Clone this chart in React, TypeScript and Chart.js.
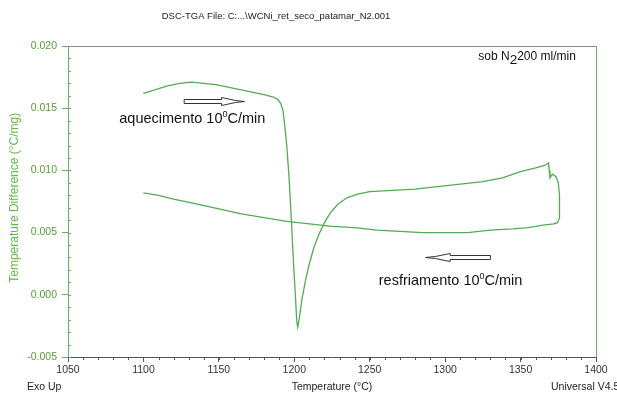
import React, { useEffect, useRef } from "react";
import { Chart, registerables } from "chart.js";

Chart.register(...registerables);

// ---- data ----
const temperature = [
  1100, 1108, 1116, 1124, 1132, 1140, 1148, 1156, 1164, 1172, 1180, 1186, 1189, 1191,
  1192.5, 1193.5, 1195, 1196.5, 1198, 1199.5, 1200.7, 1201.7, 1202.3, 1203.2, 1205,
  1207.5, 1210, 1213, 1216.5, 1220, 1224, 1229, 1235, 1242, 1250, 1265, 1280, 1295,
  1310, 1325, 1338, 1350, 1360, 1366, 1368.5, 1369, 1369.5, 1371, 1373.5, 1375,
  1375.8, 1376, 1375.6, 1374.5, 1372,
  1365, 1355, 1345, 1330, 1315, 1300, 1285, 1270, 1255, 1240, 1225, 1210, 1195,
  1180, 1165, 1150, 1135, 1120, 1110, 1100,
];
const tempDifference = [
  0.0162, 0.0165, 0.0168, 0.017, 0.0171, 0.017, 0.0169, 0.0167, 0.0165, 0.0163, 0.0161,
  0.0159, 0.0157, 0.0154, 0.0148, 0.0138, 0.012, 0.0095, 0.0062, 0.0025, 0.0, -0.0022,
  -0.0026, -0.002, -0.0004, 0.0012, 0.0025, 0.0038, 0.0049, 0.0058, 0.0066, 0.0073,
  0.0078, 0.0081, 0.0083, 0.0084, 0.0085, 0.0087, 0.0089, 0.0091, 0.0094, 0.0099,
  0.0102, 0.0104, 0.0106, 0.01, 0.0094, 0.0097, 0.0095, 0.009, 0.008, 0.007, 0.0062,
  0.0058, 0.0057,
  0.0056, 0.0054, 0.0053, 0.0052, 0.005, 0.005, 0.005, 0.0051, 0.0052, 0.0054, 0.0055,
  0.0057, 0.0059, 0.0062, 0.0065, 0.0069, 0.0073, 0.0077, 0.008, 0.0082,
];
const xTickValues = [1050, 1100, 1150, 1200, 1250, 1300, 1350, 1400];
const yTickValues = [-0.005, 0.0, 0.005, 0.01, 0.015, 0.02];
const xMinorStep = 10;
const yMinorStep = 0.001;

const chartTitle = "DSC-TGA File: C:...\\WCNi_ret_seco_patamar_N2.001";
const xTitle = "Temperature (°C)";
const yTitle = "Temperature Difference (°C/mg)";
const heatingLabel = "aquecimento 10";
const coolingLabel = "resfriamento 10";
const rateUnit = "C/min";
const degreeMark = "0";
const gasLabelA = "sob N";
const gasLabelSub = "2";
const gasLabelB = "200 ml/min";
const footLeft = "Exo Up";
const footRight = "Universal V4.5";

// annotation anchors in data units
const heatingText = { x: 1084, y: 0.0138 };
const heatingArrow = { x0: 1127, x1: 1167, y: 0.0156 };
const coolingText = { x: 1256, y: 0.0008 };
const coolingArrow = { x0: 1330, x1: 1287, y: 0.003 };
const gasText = { x: 1322, y: 0.0189 };
const yTitleCenter = 0.0078;

const FONT = "'Liberation Sans', Arial, sans-serif";
const CURVE = "#54ab54";
const AXIS_GREEN = "#6aae6a";
const LABEL_GREEN = "#5a9a3a";
const TITLE_GREEN = "#66b548";

function drawArrow(ctx: CanvasRenderingContext2D, x0: number, x1: number, y: number) {
  const dir = x1 > x0 ? 1 : -1;
  const len = Math.abs(x1 - x0);
  const shaftEnd = x0 + dir * len * 0.62;
  const headEnd = x0 + dir * len * 0.85;
  ctx.save();
  ctx.strokeStyle = "#333";
  ctx.fillStyle = "#fff";
  ctx.lineWidth = 1;
  ctx.beginPath();
  ctx.moveTo(x0, y - 2);
  ctx.lineTo(shaftEnd, y - 2);
  ctx.lineTo(shaftEnd, y - 4);
  ctx.lineTo(headEnd, y - 1);
  ctx.lineTo(x1, y);
  ctx.lineTo(headEnd, y + 1);
  ctx.lineTo(shaftEnd, y + 4);
  ctx.lineTo(shaftEnd, y + 2);
  ctx.lineTo(x0, y + 2);
  ctx.closePath();
  ctx.fill();
  ctx.stroke();
  ctx.restore();
}

function drawRateText(ctx: CanvasRenderingContext2D, text: string, x: number, y: number) {
  ctx.font = `14.5px ${FONT}`;
  ctx.fillText(text, x, y);
  let cx = x + ctx.measureText(text).width;
  ctx.font = `9px ${FONT}`;
  ctx.fillText(degreeMark, cx, y - 6);
  cx += ctx.measureText(degreeMark).width;
  ctx.font = `14.5px ${FONT}`;
  ctx.fillText(rateUnit, cx, y);
}

const decorPlugin = {
  id: "decor",
  afterDraw(chart: any) {
    const { ctx, chartArea, scales } = chart;
    const xs = scales.x;
    const ys = scales.y;
    const { left, right, top, bottom } = chartArea;
    ctx.save();
    // frame
    ctx.lineWidth = 1;
    ctx.strokeStyle = "#888";
    ctx.beginPath();
    ctx.moveTo(left, top + 0.5);
    ctx.lineTo(right, top + 0.5);
    ctx.stroke();
    ctx.strokeStyle = AXIS_GREEN;
    ctx.beginPath();
    ctx.moveTo(right + 0.5, top);
    ctx.lineTo(right + 0.5, bottom);
    ctx.stroke();
    // minor ticks
    ctx.strokeStyle = AXIS_GREEN;
    for (let v = -0.005; v <= 0.02 + 1e-9; v += yMinorStep) {
      const py = Math.round(ys.getPixelForValue(v)) + 0.5;
      ctx.beginPath();
      ctx.moveTo(left, py);
      ctx.lineTo(left + 3, py);
      ctx.stroke();
    }
    ctx.strokeStyle = "#555";
    for (let v = 1050; v <= 1400; v += xMinorStep) {
      const px = Math.round(xs.getPixelForValue(v)) + 0.5;
      ctx.beginPath();
      ctx.moveTo(px, bottom);
      ctx.lineTo(px, bottom + 3);
      ctx.stroke();
    }
    // y title
    ctx.save();
    ctx.translate(left - 53, ys.getPixelForValue(yTitleCenter));
    ctx.rotate(-Math.PI / 2);
    ctx.fillStyle = TITLE_GREEN;
    ctx.font = `12px ${FONT}`;
    ctx.textAlign = "center";
    ctx.textBaseline = "middle";
    ctx.fillText(yTitle, 0, 0);
    ctx.restore();
    // title
    ctx.fillStyle = "#222";
    ctx.font = `9.5px ${FONT}`;
    ctx.textAlign = "center";
    ctx.textBaseline = "middle";
    ctx.fillText(chartTitle, left + (right - left) * 0.394, 16);
    // footers
    ctx.font = `10.5px ${FONT}`;
    ctx.textAlign = "left";
    ctx.fillStyle = "#222";
    ctx.fillText(footLeft, left - 41, bottom + 30);
    ctx.fillText(footRight, right - 45, bottom + 30);
    // annotations
    ctx.textBaseline = "alphabetic";
    ctx.fillStyle = "#111";
    drawRateText(ctx, heatingLabel, xs.getPixelForValue(heatingText.x), ys.getPixelForValue(heatingText.y));
    drawRateText(ctx, coolingLabel, xs.getPixelForValue(coolingText.x), ys.getPixelForValue(coolingText.y));
    drawArrow(ctx, xs.getPixelForValue(heatingArrow.x0), xs.getPixelForValue(heatingArrow.x1), Math.round(ys.getPixelForValue(heatingArrow.y)) + 0.5);
    drawArrow(ctx, xs.getPixelForValue(coolingArrow.x0), xs.getPixelForValue(coolingArrow.x1), Math.round(ys.getPixelForValue(coolingArrow.y)) + 0.5);
    // gas flow
    const gx = xs.getPixelForValue(gasText.x);
    const gy = ys.getPixelForValue(gasText.y);
    ctx.font = `12px ${FONT}`;
    ctx.fillText(gasLabelA, gx, gy);
    let cx = gx + ctx.measureText(gasLabelA).width;
    ctx.font = `13.5px ${FONT}`;
    ctx.fillText(gasLabelSub, cx, gy + 4);
    cx += ctx.measureText(gasLabelSub).width;
    ctx.font = `12px ${FONT}`;
    ctx.fillText(gasLabelB, cx, gy);
    ctx.restore();
  },
};

export default function App() {
  const ref = useRef<HTMLCanvasElement | null>(null);
  useEffect(() => {
    if (!ref.current) return;
    const points = temperature.map((t, i) => ({ x: t, y: tempDifference[i] }));
    const chart = new Chart(ref.current, {
      type: "scatter",
      data: {
        datasets: [
          {
            data: points,
            showLine: true,
            borderColor: CURVE,
            borderWidth: 1.3,
            pointRadius: 0,
            tension: 0,
            fill: false,
          },
        ],
      },
      options: {
        animation: false,
        responsive: false,
        maintainAspectRatio: false,
        layout: { padding: { top: 46, right: 21, left: 0, bottom: 0 } },
        plugins: { legend: { display: false }, tooltip: { enabled: false }, title: { display: false } },
        scales: {
          x: {
            type: "linear",
            min: 1050,
            max: 1400,
            afterBuildTicks: (s: any) => {
              s.ticks = xTickValues.map((v) => ({ value: v }));
            },
            afterFit: (s: any) => {
              s.height = 38;
            },
            grid: { drawOnChartArea: false, tickLength: 5, color: "#555" },
            border: { color: "#555" },
            ticks: {
              color: "#333",
              font: { family: FONT, size: 10.5 },
              padding: 2,
              maxRotation: 0,
              callback: (v: any) => String(v),
            },
            title: {
              display: true,
              text: xTitle,
              color: "#222",
              font: { family: FONT, size: 10.5 },
              padding: { top: 0, bottom: 2 },
            },
          },
          y: {
            type: "linear",
            min: -0.005,
            max: 0.02,
            afterBuildTicks: (s: any) => {
              s.ticks = yTickValues.map((v) => ({ value: v }));
            },
            afterFit: (s: any) => {
              s.width = 68;
            },
            grid: { drawOnChartArea: false, tickLength: 6, color: AXIS_GREEN },
            border: { color: AXIS_GREEN },
            ticks: {
              color: LABEL_GREEN,
              font: { family: FONT, size: 10.5 },
              padding: 5,
              callback: (v: any) => Number(v).toFixed(3),
            },
            title: { display: false },
          },
        },
      },
      plugins: [decorPlugin],
    });
    return () => chart.destroy();
  }, []);
  return (
    <div style={{ position: "absolute", left: 0, top: 0, width: 617, height: 395, background: "#fff" }}>
      <canvas ref={ref} width={617} height={395} style={{ display: "block" }} />
    </div>
  );
}
